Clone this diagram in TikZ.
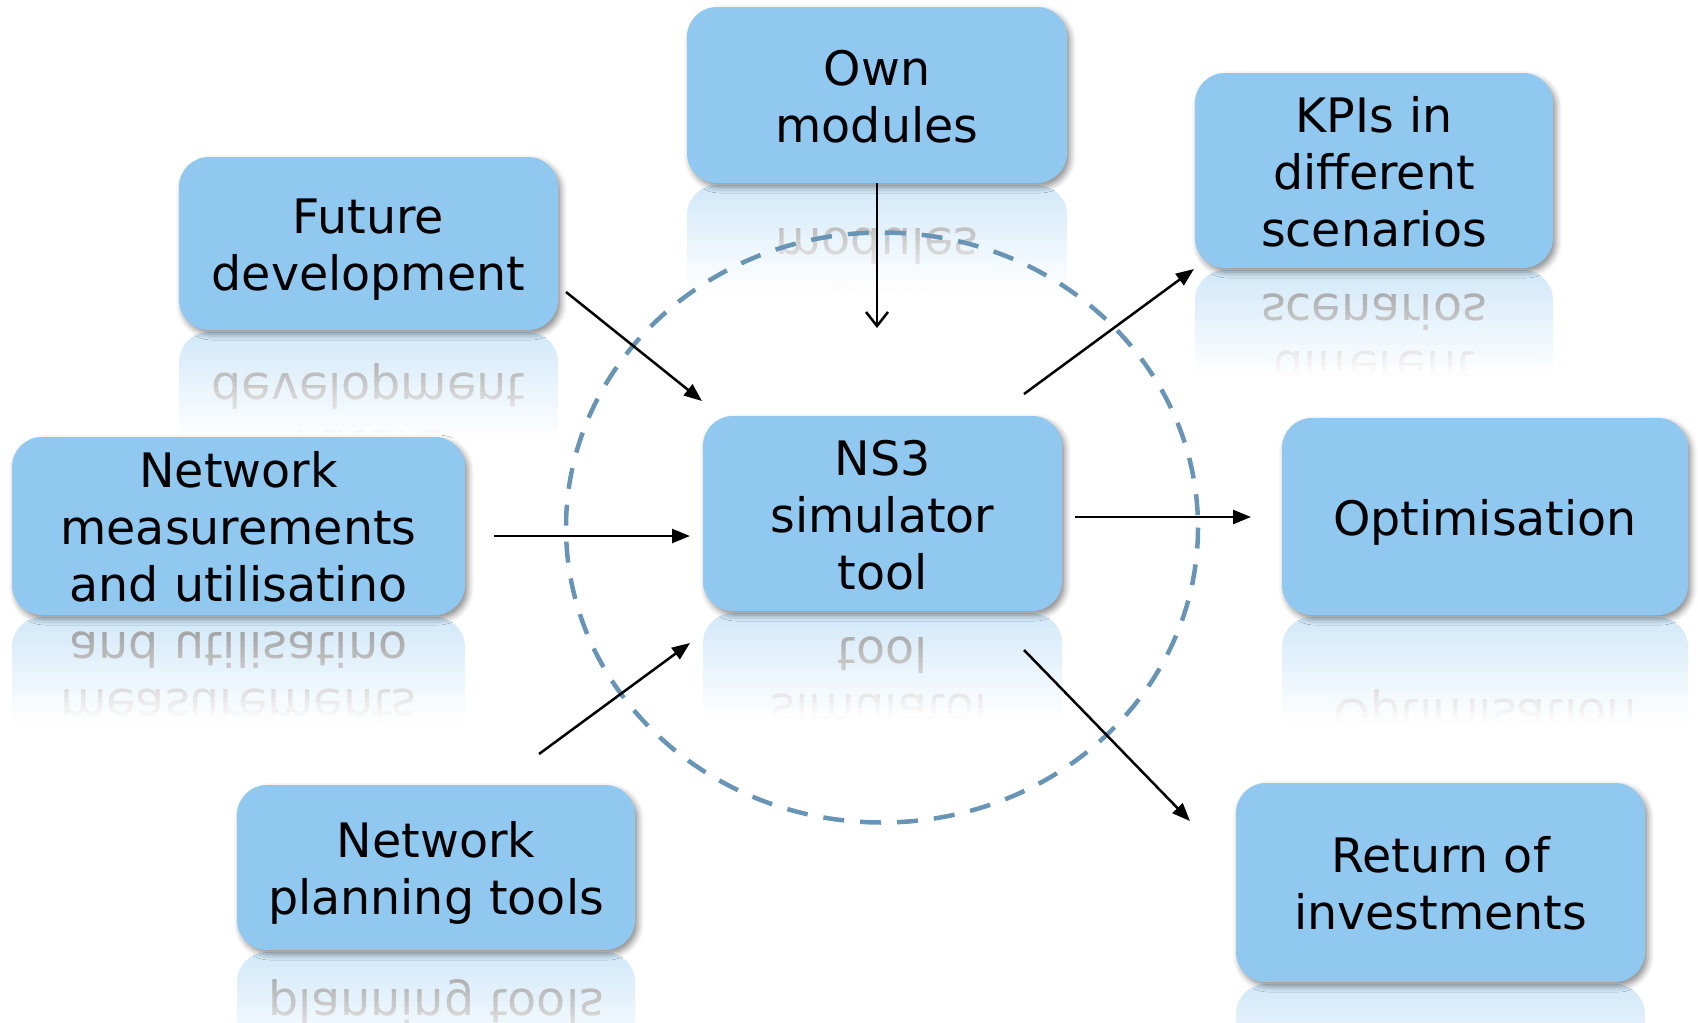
\documentclass[tikz,border=0pt]{standalone}
\usepackage{fontspec}
\setmainfont{DejaVu Sans}
\usetikzlibrary{arrows.meta,shadows.blur}
\definecolor{boxblue}{RGB}{145,200,240}
\definecolor{ringblue}{RGB}{104,148,181}
\newcommand\boxfont{\fontsize{47.5pt}{57pt}\selectfont}
\newcommand\ls{\rule[-10pt]{0pt}{57pt}}
% #1 name, #2 cx, #3 cy, #4 w, #5 h, #6 text
\newcommand\drawrefl[6]{%
  \pgfmathsetmacro\axis{#3+#5/2+2}%
  \foreach \i in {0,...,20}{%
    \pgfmathsetmacro\p{42*(1-(\i+0.5)/21)}%
    \pgfmathtruncatemacro\onpage{(\axis+\i*5)<1023 ? 1 : 0}%
    \ifnum\onpage=1
    \begin{scope}
      \clip ({#2-#4/2-2},{\axis+\i*5}) rectangle ({#2+#4/2+2},{\axis+\i*5+5.4});
      \fill[boxblue!\p!white, rounded corners=30pt] ({#2-#4/2},\axis) rectangle ({#2+#4/2},{\axis+#5});
      \node[boxtext, text=black!\p!white, yscale=-1] (#1-\i) at (#2,{2*\axis-#3}) {#6};
    \end{scope}
    \fi}}
\begin{document}
\begin{tikzpicture}[x=1pt,y=-1pt,
  boxtext/.style={inner sep=0pt, align=center, font=\boxfont, text=black},
  box/.style={boxtext, fill=boxblue, rounded corners=30pt,
    blur shadow={shadow xshift=3pt, shadow yshift=-4pt, shadow blur radius=6pt, shadow opacity=45}},
  conn/.style={line width=2.5pt, -{Triangle[length=18pt,width=14pt]}},
  openconn/.style={line width=2.5pt, -{Straight Barb[length=14pt,width=22pt,line width=2.5pt]}}
]
\useasboundingbox (0,0) rectangle (1698,1023);
% reflections
\drawrefl{r-own}{877}{95}{380}{176}{\ls Own\\modules\ls}
\drawrefl{r-fut}{368.5}{243.5}{379}{173}{\ls Future\\development\ls}
\drawrefl{r-kpi}{1374}{170.5}{358}{195}{\ls KPIs in\\different\\scenarios\ls}
\drawrefl{r-meas}{238.5}{526}{453}{178}{\ls Network\\measurements\\and utilisatino\ls}
\drawrefl{r-ns3}{882.5}{513.5}{359}{195}{\ls NS3\\simulator\\tool\ls}
\drawrefl{r-opt}{1485}{516.5}{406}{197}{\ls Optimisation}
\drawrefl{r-plan}{436}{867.5}{398}{165}{\ls Network\\planning tools\ls}
\drawrefl{r-roi}{1440.5}{882.5}{409}{199}{}
% dashed ring
\draw[ringblue, line width=4.5pt, dash pattern=on 21pt off 16pt] (882,527.5) ellipse [x radius=316, y radius=295];
% boxes
\node[box, minimum width=380pt, minimum height=176pt] (own) at (877,95) {\ls Own\\modules\ls};
\node[box, minimum width=379pt, minimum height=173pt] (fut) at (368.5,243.5) {\ls Future\\development\ls};
\node[box, minimum width=358pt, minimum height=195pt] (kpi) at (1374,170.5) {\ls KPIs in\\different\\scenarios\ls};
\node[box, minimum width=453pt, minimum height=178pt] (meas) at (238.5,526) {\ls Network\\measurements\\and utilisatino\ls};
\node[box, minimum width=359pt, minimum height=195pt] (ns3) at (882.5,513.5) {\ls NS3\\simulator\\tool\ls};
\node[box, minimum width=406pt, minimum height=197pt] (opt) at (1485,516.5) {\ls Optimisation};
\node[box, minimum width=398pt, minimum height=165pt] (plan) at (436,867.5) {\ls Network\\planning tools\ls};
\node[box, minimum width=409pt, minimum height=199pt] (roi) at (1440.5,882.5) {\ls Return of\\investments\ls};
% connector ends
\coordinate (e-own) at (877,328);
\coordinate (s-fut) at (566,292);  \coordinate (e-fut) at (702,401);
\coordinate (s-meas) at (494,536); \coordinate (e-meas) at (690,536);
\coordinate (s-plan) at (539,754); \coordinate (e-plan) at (690,643);
\coordinate (s-kpi) at (1024,394); \coordinate (e-kpi) at (1194,269);
\coordinate (s-opt) at (1075,517); \coordinate (e-opt) at (1251,517);
\coordinate (s-roi) at (1024,650); \coordinate (e-roi) at (1190,821);
% connectors
\draw[openconn] (own.south) -- (e-own);
\draw[conn] (s-fut) -- (e-fut);
\draw[conn] (s-meas) -- (e-meas);
\draw[conn] (s-plan) -- (e-plan);
\draw[conn] (s-kpi) -- (e-kpi);
\draw[conn] (s-opt) -- (e-opt);
\draw[conn] (s-roi) -- (e-roi);
\end{tikzpicture}
\end{document}
